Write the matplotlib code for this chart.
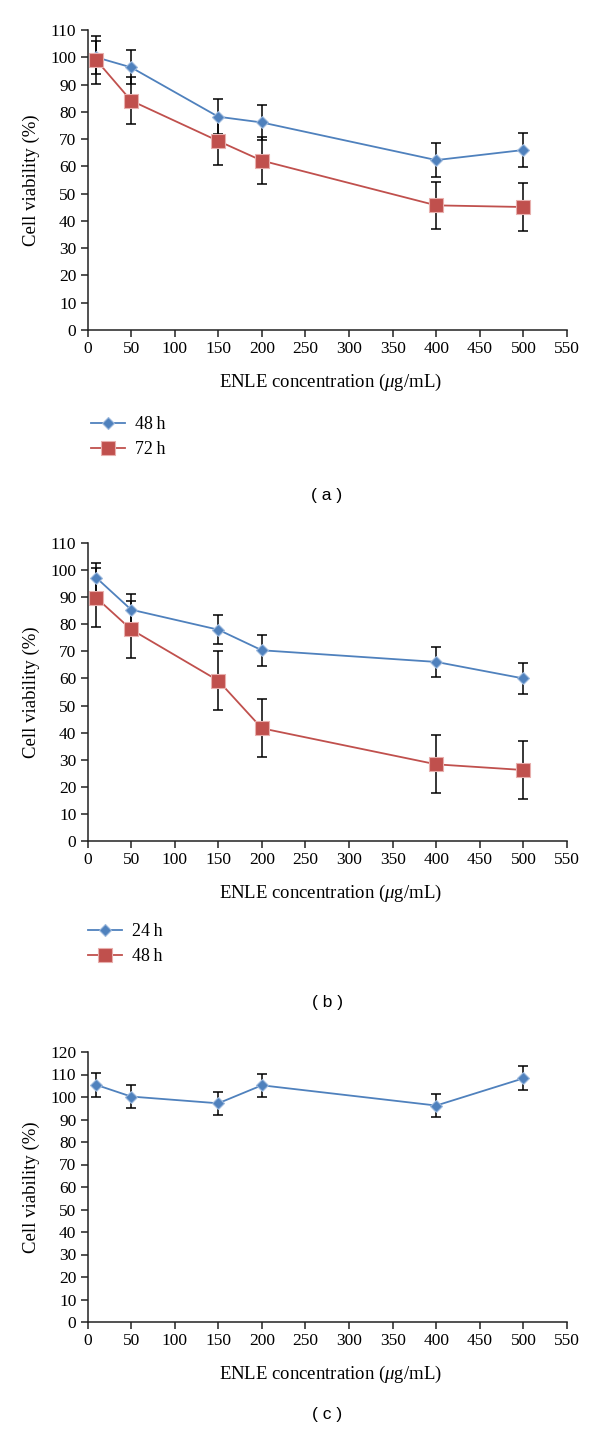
import numpy as np
import matplotlib
matplotlib.use("Agg")
import matplotlib.pyplot as plt

plt.rcParams['font.family'] = ['Liberation Serif', 'DejaVu Serif']
plt.rcParams['mathtext.fontset'] = 'custom'
plt.rcParams['mathtext.rm'] = 'Liberation Serif'
plt.rcParams['mathtext.it'] = 'Liberation Serif:italic'

conc = [10, 50, 150, 200, 400, 500]

# panel (a)
a_48h = [100, 96.3, 78.2, 76.1, 62.3, 66.0]
a_48h_err = [6.0, 6.2, 6.4, 6.5, 6.3, 6.4]
a_72h = [99.0, 84.1, 69.3, 62.1, 45.7, 45.1]
a_72h_err = [8.7, 8.5, 8.8, 8.6, 8.7, 8.7]

# panel (b)
b_24h = [97.2, 85.4, 78.0, 70.4, 66.1, 60.0]
b_24h_err = [5.5, 5.6, 5.4, 5.7, 5.5, 5.7]
b_48h = [89.8, 78.1, 59.2, 41.6, 28.3, 26.2]
b_48h_err = [10.8, 10.5, 10.8, 10.7, 10.7, 10.7]

# panel (c)
c_vals = [105.4, 100.2, 97.2, 105.2, 96.2, 108.3]
c_vals_err = [5.2, 5.0, 5.0, 5.2, 5.0, 5.3]

blue = '#4F81BD'
red = '#C0504D'

W, H = 600, 1435
fig = plt.figure(figsize=(W / 100, H / 100), dpi=100)

left = 87.5 / W
width = (567 - 87.5) / W


def make_axes(top_px, bottom_px):
    return fig.add_axes([left, 1 - bottom_px / H, width, (bottom_px - top_px) / H])


def style(ax, ymax, ystep):
    ax.set_xlim(0, 550)
    ax.set_ylim(0, ymax)
    ax.set_xticks(np.arange(0, 551, 50))
    ax.set_yticks(np.arange(0, ymax + 1, ystep))
    for s in ['top', 'right']:
        ax.spines[s].set_visible(False)
    for s in ['left', 'bottom']:
        ax.spines[s].set_color('#222222')
        ax.spines[s].set_linewidth(1.1)
    ax.tick_params(direction='out', length=5, width=1.1, color='#222222',
                   labelsize=12.5, pad=3)


def series(ax, y, err, color, marker, ms, label=None):
    ax.errorbar(conc, y, yerr=err, fmt='none', ecolor='black',
                elinewidth=1.1, capsize=3.5, capthick=1.1, zorder=2)
    edge = '#9DB9DD' if color == blue else '#E8AFAD'
    line, = ax.plot(conc, y, color=color, lw=1.3, marker=marker, ms=ms,
                    mfc=color, mec=edge, mew=0.8, zorder=3, label=label,
                    clip_on=False)
    return line


def labels(ax_bottom_px, ax_top_px):
    fig.text(330 / W, 1 - (ax_bottom_px + 52) / H, 'ENLE concentration ($\\mu$g/mL)',
             ha='center', va='center', fontsize=13.5)
    fig.text(31 / W, 1 - ((ax_top_px + ax_bottom_px) / 2) / H, 'Cell viability (%)',
             ha='center', va='center', rotation=90, fontsize=13.5)


def panel_tag(text, y_px):
    fig.text(327 / W, 1 - y_px / H, text, ha='center', va='center',
             fontsize=12.5, family=['Liberation Sans', 'DejaVu Sans'])


leg_kw = dict(loc='upper left', frameon=False, fontsize=13, handlelength=1.9,
              handletextpad=0.55, labelspacing=0.45, borderaxespad=0, borderpad=0)

# (a)
ax1 = make_axes(30, 330)
style(ax1, 110, 10)
l1 = series(ax1, a_48h, a_48h_err, blue, 'D', 6.5, '48\u2009h')
l2 = series(ax1, a_72h, a_72h_err, red, 's', 10, '72\u2009h')
labels(330, 30)
fig.legend(handles=[l1, l2], bbox_to_anchor=(91 / W, 1 - 416 / H), **leg_kw)
panel_tag('( a )', 495)

# (b)
ax2 = make_axes(543, 841)
style(ax2, 110, 10)
l3 = series(ax2, b_24h, b_24h_err, blue, 'D', 6.5, '24\u2009h')
l4 = series(ax2, b_48h, b_48h_err, red, 's', 10, '48\u2009h')
labels(841, 543)
fig.legend(handles=[l3, l4], bbox_to_anchor=(88 / W, 1 - 923 / H), **leg_kw)
panel_tag('( b )', 1003)

# (c)
ax3 = make_axes(1052, 1322)
style(ax3, 120, 10)
series(ax3, c_vals, c_vals_err, blue, 'D', 6.5)
labels(1322, 1052)
panel_tag('( c )', 1415)

fig.savefig('out.png', dpi=100)
